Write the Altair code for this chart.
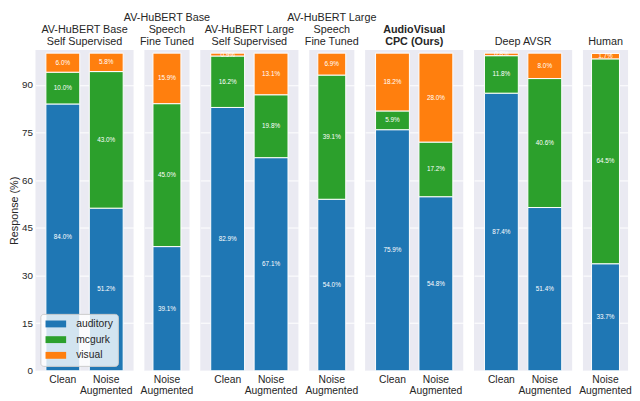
import altair as alt
import pandas as pd

# ---- data ----
responses = ["auditory", "mcgurk", "visual"]
colors = ["#1f77b4", "#2ca02c", "#ff7f0e"]

panel_titles = [
    ["AV-HuBERT Base", "Self Supervised"],
    ["AV-HuBERT Base", "Speech", "Fine Tuned"],
    ["AV-HuBERT Large", "Self Supervised"],
    ["AV-HuBERT Large", "Speech", "Fine Tuned"],
    ["AudioVisual", "CPC (Ours)"],
    ["Deep AVSR"],
    ["Human"],
]
bold_panel = 4

bar_model = [0, 0, 1, 2, 2, 3, 4, 4, 5, 5, 6]
bar_condition = ["Clean", "Noise Augmented", "Noise Augmented", "Clean", "Noise Augmented",
                 "Noise Augmented", "Clean", "Noise Augmented", "Clean", "Noise Augmented",
                 "Noise Augmented"]
auditory = [84.0, 51.2, 39.1, 82.9, 67.1, 54.0, 75.9, 54.8, 87.4, 51.4, 33.7]
mcgurk = [10.0, 43.0, 45.0, 16.2, 19.8, 39.1, 5.9, 17.2, 11.8, 40.6, 64.5]
visual = [6.0, 5.8, 15.9, 0.9, 13.1, 6.9, 18.2, 28.0, 0.8, 8.0, 1.7]

y_ticks = [0, 15, 30, 45, 60, 75, 90]
cond_order = ["Clean", "Noise Augmented"]

rows = []
for b in range(len(bar_model)):
    base = 0.0
    for k, vals in enumerate([auditory, mcgurk, visual]):
        v = vals[b]
        rows.append(dict(model=bar_model[b], condition=bar_condition[b], response=responses[k],
                         value=v, order=k, mid=base + v / 2, label=f"{v:.1f}%"))
        base += v
df = pd.DataFrame(rows)

TXT = "#262626"
FONT = "Liberation Sans"
H = 327

yscale = alt.Scale(domain=[0, 101], nice=False, zero=True)

charts = []
for p in range(len(panel_titles)):
    d = df[df.model == p]
    conds = [c for c in cond_order if c in set(d.condition)]
    w = 100 if len(conds) == 2 else 46
    xenc = alt.X(
        "condition:N",
        sort=conds,
        scale=alt.Scale(domain=conds, paddingInner=0.22, paddingOuter=0.24),
        axis=alt.Axis(
            title=None, labelAngle=0, grid=False, ticks=False, domain=False,
            labelExpr="datum.label == 'Noise Augmented' ? ['Noise', 'Augmented'] : datum.label",
            labelFontSize=10.5, labelPadding=4, labelLineHeight=11.5, labelColor=TXT,
            labelFont=FONT,
        ),
    )
    if p == 0:
        yaxis = alt.Axis(title="Response (%)", values=y_ticks, grid=True, ticks=False, domain=False,
                         labelFontSize=10, labelPadding=3, labelColor=TXT, labelFont=FONT,
                         titleFontSize=11, titleFontWeight="normal", titleColor=TXT,
                         titleFont=FONT, titlePadding=2)
        legend = alt.Legend(
            title=None, orient="bottom-left", offset=5, padding=5,
            fillColor="rgba(255,255,255,0.8)", strokeColor="#cccccc", cornerRadius=3,
            symbolType="M-1,-0.7L3.2,-0.7L3.2,0.7L-1,0.7Z", symbolSize=100,
            symbolStrokeWidth=0, labelOffset=21, labelFontSize=10.5, labelColor=TXT,
            labelFont=FONT, rowPadding=5,
        )
    else:
        yaxis = alt.Axis(title=None, values=y_ticks, grid=True, ticks=False, domain=False,
                         labels=False)
        legend = None

    bars = alt.Chart(d).mark_bar(stroke="white", strokeWidth=1).encode(
        x=xenc,
        y=alt.Y("value:Q", stack="zero", scale=yscale, axis=yaxis),
        color=alt.Color("response:N", scale=alt.Scale(domain=responses, range=colors),
                        legend=legend),
        order=alt.Order("order:Q", sort="ascending"),
    )
    text = alt.Chart(d).mark_text(color="white", fontSize=6.5, font=FONT).encode(
        x=xenc,
        y=alt.Y("mid:Q", scale=yscale, axis=yaxis),
        text="label:N",
    )
    layer = alt.layer(bars, text).properties(
        width=w, height=H,
        title=alt.TitleParams(
            text=panel_titles[p], fontSize=11, lineHeight=12.5, offset=3, anchor="middle",
            color=TXT, font=FONT, fontWeight="bold" if p == bold_panel else "normal",
        ),
    )
    charts.append(layer)

chart = (
    alt.hconcat(*charts, spacing=11, bounds="flush")
    .resolve_legend(color="independent")
    .properties(padding={"left": 0, "top": 0, "right": 0, "bottom": 0})
    .configure_view(stroke=None, fill="#EAEAF2")
    .configure_axis(gridColor="white", gridWidth=1)
)

chart.save("out.html", embed_options={"renderer": "svg", "actions": False})
